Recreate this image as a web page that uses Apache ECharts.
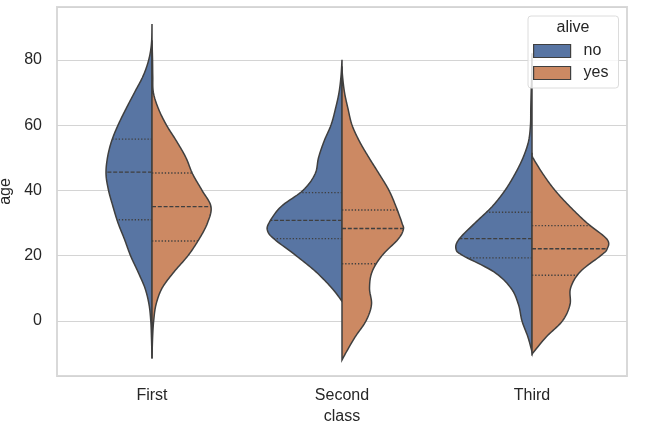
<!DOCTYPE html>
<html>
<head>
<meta charset="utf-8">
<script src="https://cdn.jsdelivr.net/npm/echarts@6/dist/echarts.min.js"></script>
<style>
  html, body { margin: 0; padding: 0; background: #fff; }
  #main { width: 660px; height: 428px; }
</style>
</head>
<body>
<div id="main"></div>
<script>
// categories
var classes = ["First", "Second", "Third"];
var hues = ["no", "yes"];

// violin half-profiles: [age, relative width] from top to bottom
var firstNo = [[91, 0], [85, 0.007], [80, 0.043], [75, 0.118], [70, 0.23], [65, 0.342], [60, 0.447],
  [55, 0.533], [50, 0.586], [45, 0.605], [40, 0.572], [35, 0.513], [30, 0.447], [25, 0.362],
  [20, 0.283], [15, 0.184], [10, 0.092], [5, 0.039], [0, 0.016], [-5, 0.007], [-11.5, 0]];
var firstYes = [[86, 0], [80, 0.007], [75, 0.01], [70, 0.018], [65, 0.085], [60, 0.19], [55, 0.325],
  [50, 0.447], [45, 0.535], [40, 0.658], [35, 0.776], [30, 0.73], [25, 0.618], [20, 0.474],
  [15, 0.289], [10, 0.132], [5, 0.053], [0, 0.022], [-5, 0.008], [-11.5, 0]];
var secondNo = [[80, 0], [75, 0.013], [70, 0.039], [65, 0.086], [60, 0.145], [55, 0.237], [50, 0.309],
  [45, 0.355], [40, 0.513], [35, 0.803], [30, 0.961], [27.5, 0.978], [25, 0.888], [20, 0.605],
  [15, 0.342], [10, 0.132], [6, 0]];
var secondYes = [[78, 0], [75, 0.007], [70, 0.033], [65, 0.079], [60, 0.132], [55, 0.23], [50, 0.355],
  [45, 0.49], [40, 0.618], [35, 0.711], [30, 0.789], [28, 0.807], [25, 0.737], [20, 0.526],
  [15, 0.395], [10, 0.362], [5, 0.388], [0, 0.316], [-5, 0.171], [-10, 0.046], [-12, 0]];
var thirdNo = [[82, 0], [75, 0.004], [70, 0.011], [65, 0.016], [60, 0.02], [55, 0.046], [50, 0.118],
  [45, 0.224], [40, 0.355], [35, 0.526], [30, 0.75], [25, 0.961], [22, 1.0], [20, 0.908],
  [15, 0.5], [10, 0.276], [5, 0.178], [0, 0.132], [-5, 0.053], [-9.5, 0]];
var thirdYes = [[51.5, 0], [50, 0.013], [45, 0.145], [40, 0.303], [35, 0.5], [30, 0.724], [25, 0.987],
  [22, 0.987], [20, 0.904], [15, 0.632], [10, 0.507], [5, 0.5], [0, 0.401], [-5, 0.184], [-10.2, 0]];

// quartiles [q1, median, q3]
var quartNo = [[31.0, 45.6, 55.7], [25.2, 30.8, 39.3], [19.3, 25.2, 33.3]];
var quartYes = [[24.5, 35.0, 45.3], [17.5, 28.3, 34.0], [14.0, 22.1, 29.2]];

var profilesNo = [firstNo, secondNo, thirdNo];
var profilesYes = [firstYes, secondYes, thirdYes];

var yMin = -16.9;
var yMax = 96.2;

// catmull-rom smoothing of a profile
function smoothProfile(pts, steps) {
  var out = [];
  var n = pts.length;
  for (var i = 0; i < n - 1; i++) {
    var p0 = pts[Math.max(i - 1, 0)], p1 = pts[i], p2 = pts[i + 1], p3 = pts[Math.min(i + 2, n - 1)];
    for (var s = 0; s < steps; s++) {
      var t = s / steps, t2 = t * t, t3 = t2 * t;
      var pt = [0, 1].map(function (k) {
        return 0.5 * ((2 * p1[k]) + (-p0[k] + p2[k]) * t +
          (2 * p0[k] - 5 * p1[k] + 4 * p2[k] - p3[k]) * t2 +
          (-p0[k] + 3 * p1[k] - 3 * p2[k] + p3[k]) * t3);
      });
      pt[1] = Math.max(pt[1], 0);
      out.push(pt);
    }
  }
  out.push(pts[n - 1]);
  return out;
}

function widthAt(pts, age) {
  for (var i = 0; i < pts.length - 1; i++) {
    var a = pts[i], b = pts[i + 1];
    if (a[0] >= age && age >= b[0]) {
      var f = (a[0] - age) / (a[0] - b[0] || 1);
      return a[1] + (b[1] - a[1]) * f;
    }
  }
  return 0;
}

function makeRender(profiles, quarts, side) {
  return function (params, api) {
    var ci = api.value(0);
    var half = api.size([1, 0])[0] * 0.4;
    var cx = api.coord([ci, 0])[0];
    var pts = smoothProfile(profiles[ci], 10);
    var poly = pts.map(function (p) {
      return [cx + side * p[1] * half, api.coord([ci, p[0]])[1]];
    });
    var children = [{
      type: "polygon",
      shape: { points: poly },
      style: { fill: api.visual("color"), stroke: "#3f3f3f", lineWidth: 1.5 }
    }];
    // quartile lines: dashed median, dotted quartiles
    quarts[ci].forEach(function (q, k) {
      var w = widthAt(pts, q);
      var y = api.coord([ci, q])[1];
      children.push({
        type: "line",
        shape: { x1: cx, y1: y, x2: cx + side * w * half, y2: y },
        style: { stroke: "#3f3f3f", lineWidth: 1.4, lineDash: k === 1 ? [4, 1.8] : [1.3, 1.9] }
      });
    });
    return { type: "group", children: children };
  };
}

var chart = echarts.init(document.getElementById("main"));
var font = "Liberation Sans, Arial, sans-serif";

chart.setOption({
  animation: false,
  backgroundColor: "#fff",
  title: {
    text: "alive",
    left: 573,
    top: 20,
    textAlign: "center",
    padding: 0,
    textStyle: { fontFamily: font, fontSize: 16, fontWeight: "normal", color: "#262626" }
  },
  legend: {
    data: hues,
    orient: "vertical",
    left: 528,
    top: 16,
    padding: [27, 10, 7, 5],
    itemWidth: 37,
    itemHeight: 13,
    itemGap: 6,
    icon: "rect",
    backgroundColor: "rgba(255,255,255,0.8)",
    borderColor: "#dcdcdc",
    borderWidth: 1,
    borderRadius: 3,
    itemStyle: { borderColor: "#3f3f3f", borderWidth: 1.2 },
    textStyle: { fontFamily: font, fontSize: 16, color: "#262626", padding: [0, 0, 0, 8] }
  },
  grid: {
    left: 57, right: 33, top: 7, bottom: 52,
    outerBoundsMode: "none",
    containLabel: false,
    show: true,
    borderColor: "#d9d9d9",
    borderWidth: 2
  },
  xAxis: {
    type: "category",
    data: classes,
    name: "class",
    nameLocation: "middle",
    nameGap: 30,
    nameTextStyle: { fontFamily: font, fontSize: 16, color: "#262626" },
    axisLine: { show: false },
    axisTick: { show: false },
    axisLabel: { fontFamily: font, fontSize: 16, color: "#262626", margin: 12 },
    splitLine: { show: false }
  },
  yAxis: {
    type: "value",
    min: yMin,
    max: yMax,
    splitNumber: 5,
    name: "age",
    nameLocation: "middle",
    nameGap: 39,
    nameTextStyle: { fontFamily: font, fontSize: 16, color: "#262626" },
    axisLine: { show: false },
    axisTick: { show: false },
    axisLabel: { fontFamily: font, fontSize: 16, color: "#262626", margin: 15, showMinLabel: false, showMaxLabel: false },
    splitLine: { lineStyle: { color: "#d4d4d4", width: 1 } }
  },
  series: [
    {
      name: "no",
      type: "custom",
      itemStyle: { color: "#5875a3" },
      encode: { x: 0, y: 1 },
      data: classes.map(function (c, i) { return [i, 0]; }),
      renderItem: makeRender(profilesNo, quartNo, -1)
    },
    {
      name: "yes",
      type: "custom",
      itemStyle: { color: "#cc8963" },
      encode: { x: 0, y: 1 },
      data: classes.map(function (c, i) { return [i, 0]; }),
      renderItem: makeRender(profilesYes, quartYes, 1)
    }
  ]
});
</script>
</body>
</html>
